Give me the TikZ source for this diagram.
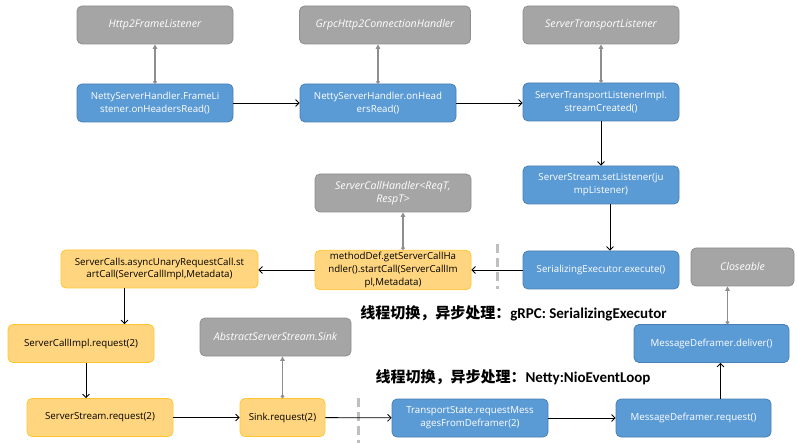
\documentclass[tikz,border=0pt]{standalone}
\usepackage{fontspec}
\setmainfont{Open Sans}
\newfontfamily\cjk{Noto Sans CJK SC}
\newfontfamily\notefont{Carlito}
\usepackage{xcolor}
\usepackage{tikz}
\usetikzlibrary{shapes,arrows,arrows.meta}
\definecolor{boxblue}{HTML}{5B9BD5}
\definecolor{edgeblue}{HTML}{4A7FB5}
\definecolor{boxgray}{HTML}{A5A5A5}
\definecolor{edgegray}{HTML}{8E8E8E}
\definecolor{boxyellow}{HTML}{FFD67F}
\definecolor{edgeyellow}{HTML}{FFC52E}
\definecolor{cutgray}{HTML}{BFBFBF}
\tikzstyle{block} = [rectangle, rounded corners=5pt, draw, line width=0.8pt, minimum width=156pt, minimum height=38pt, align=center, inner sep=2pt, font=\fontsize{9.7}{12.8}\selectfont]
\tikzstyle{blueblock} = [block, fill=boxblue, draw=edgeblue, text=white]
\tikzstyle{grayblock} = [block, fill=boxgray, draw=edgegray, text=white, font=\fontsize{10.6}{13}\selectfont\itshape]
\tikzstyle{yellowblock} = [block, fill=boxyellow, draw=edgeyellow, text=black]
\tikzstyle{line} = [draw, line width=0.8pt, -{Straight Barb[length=3.5pt,width=7pt]}]
\tikzstyle{iface} = [draw, edgegray, line width=1.2pt, {Circle[length=3.5pt]}-{Triangle[length=4.5pt,width=4.5pt]}]
\tikzstyle{cut} = [draw, cutgray, line width=3pt, dash pattern=on 9pt off 5pt]
\tikzstyle{note} = [font=\fontsize{15}{17}\selectfont\bfseries, inner sep=0pt]

\begin{document}
\begin{tikzpicture}[x=1pt,y=-1pt]
\useasboundingbox (0,0) rectangle (797,443);
% interfaces
\node [grayblock] (frame-listener) at (155,25) {Http2FrameListener};
\node [grayblock, minimum width=171pt] (grpc-handler) at (385,25) {GrpcHttp2ConnectionHandler};
\node [grayblock] (transport-listener) at (601,25) {ServerTransportListener};
\node [grayblock] (call-handler) at (393,193) {ServerCallHandler<ReqT,\\RespT>};
\node [grayblock, minimum width=103pt] (closeable) at (742.5,267) {Closeable};
\node [grayblock, minimum width=151pt] (sink) at (275.5,337) {AbstractServerStream.Sink};
% netty side
\node [blueblock] (frame-read) at (155,103) {NettyServerHandler.FrameLi\\stener.onHeadersRead()};
\node [blueblock] (handler-read) at (378,103) {NettyServerHandler.onHead\\ersRead()};
\node [blueblock] (stream-created) at (601,102) {ServerTransportListenerImpl.\\streamCreated()};
\node [blueblock] (set-listener) at (601,185) {ServerStream.setListener(ju\\mpListener)};
\node [blueblock] (serial-exec) at (601,270) {SerializingExecutor.execute()};
% app thread
\node [yellowblock] (method-def) at (393,270) {methodDef.getServerCallHa\\ndler().startCall(ServerCallIm\\pl,Metadata)};
\node [yellowblock, minimum width=197pt] (server-calls) at (159.5,269) {ServerCalls.asyncUnaryRequestCall.st\\artCall(ServerCallImpl,Metadata)};
\node [yellowblock, minimum width=146pt] (call-request) at (81,343.5) {ServerCallImpl.request(2)};
\node [yellowblock, minimum width=146pt] (stream-request) at (100,417.5) {ServerStream.request(2)};
\node [yellowblock, minimum width=85pt] (sink-request) at (282.5,417.5) {Sink.request(2)};
% back to netty
\node [blueblock] (transport-state) at (470,418) {TransportState.requestMess\\agesFromDeframer(2)};
\node [blueblock, minimum width=155pt] (deframer-request) at (693.5,418) {MessageDeframer.request()};
\node [blueblock, minimum width=155pt] (deliver) at (711.5,343.5) {MessageDeframer.deliver()};
% thread switches
\node [note] (grpc-note) at (513.5,313) {\cjk 线程切换，异步处理：\notefont gRPC: SerializingExecutor};
\node [note] (netty-note) at (513,377) {\cjk 线程切换，异步处理：\notefont Netty:NioEventLoop};
\path [cut] (497,244) -- (497,289);
\path [cut] (358,398) -- (358,443);
% implements
\path [iface] (frame-read.north) -- (frame-listener.south);
\path [iface] (handler-read.north) -- (handler-read.north |- grpc-handler.south);
\path [iface] (stream-created.north) -- (transport-listener.south);
\path [iface] ([xshift=10pt]method-def.north) -- ([xshift=10pt]method-def.north |- call-handler.south);
\path [iface] (sink-request.north) -- (sink-request.north |- sink.south);
\path [iface] ([xshift=16pt]deliver.north) -- ([xshift=16pt]deliver.north |- closeable.south);
% calls
\path [line] (frame-read) -- (handler-read);
\path [line] (handler-read) -- (handler-read -| stream-created.west);
\path [line] (stream-created) -- (set-listener);
\path [line] ([xshift=9pt]set-listener.south) -- ([xshift=9pt]serial-exec.north);
\path [line] (serial-exec) -- (method-def);
\path [line] (method-def) -- (method-def -| server-calls.east);
\path [line] ([xshift=-35pt]server-calls.south) -- ([xshift=-35pt]server-calls.south |- call-request.north);
\path [line] ([xshift=5pt]call-request.south) -- ([xshift=5pt]call-request.south |- stream-request.north);
\path [line] (stream-request) -- (sink-request);
\path [line] (sink-request) -- (transport-state);
\path [line] (transport-state) -- (transport-state -| deframer-request.west);
\path [line] ([xshift=27pt]deframer-request.north) -- ([xshift=27pt]deframer-request.north |- deliver.south);
\end{tikzpicture}
\end{document}
